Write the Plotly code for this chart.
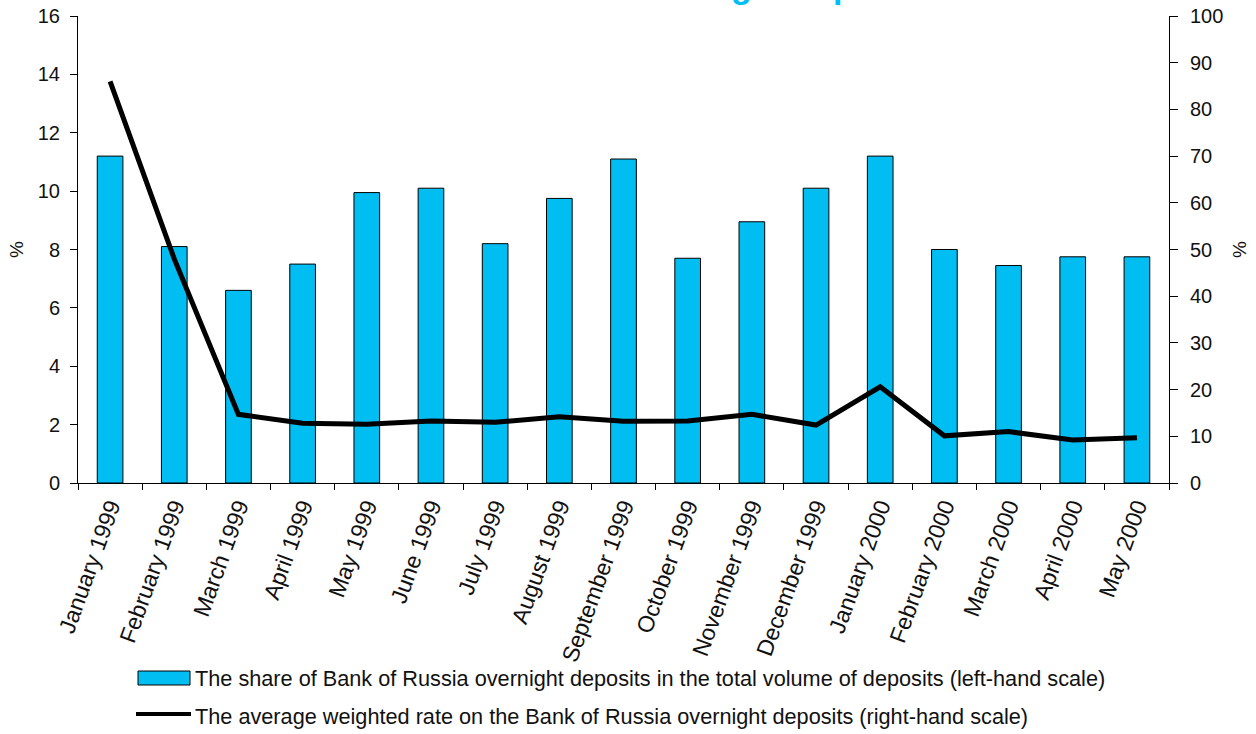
import plotly.graph_objects as go

# Monthly data, January 1999 – May 2000
months = [
    "January 1999", "February 1999", "March 1999", "April 1999", "May 1999",
    "June 1999", "July 1999", "August 1999", "September 1999", "October 1999",
    "November 1999", "December 1999", "January 2000", "February 2000",
    "March 2000", "April 2000", "May 2000",
]
# Share of overnight deposits in total deposits, % (left-hand scale)
share_pct = [11.2, 8.1, 6.6, 7.5, 9.95, 10.1, 8.2, 9.75, 11.1, 7.7,
             8.95, 10.1, 11.2, 8.0, 7.45, 7.75, 7.75]
# Average weighted rate on overnight deposits, % (right-hand scale)
rate_pct = [86.0, 48.0, 14.7, 12.8, 12.6, 13.3, 13.0, 14.2, 13.2, 13.3,
            14.7, 12.4, 20.6, 10.1, 11.0, 9.2, 9.7]

left_ticks = list(range(0, 17, 2))
right_ticks = list(range(0, 101, 10))

legend_bar_text = ("The share of Bank of Russia overnight deposits in the total "
                   "volume of deposits (left-hand scale)")
legend_line_text = ("The average weighted rate on the Bank of Russia overnight "
                    "deposits (right-hand scale)")
title_text = "Bank of Russia overnight deposits"

W, H = 1256, 734
ML, MR, MT, MB = 78, 87, 16, 251
PW, PH = W - ML - MR, H - MT - MB

CYAN = "#00BDF2"
FONT = "Liberation Sans, Arial, Helvetica, sans-serif"


def px_x(x):
    return (x - ML) / PW


def px_y(y):
    return (H - MB - y) / PH


fig = go.Figure()
fig.add_trace(go.Bar(
    x=months, y=share_pct, name=legend_bar_text,
    marker=dict(color=CYAN, line=dict(color="black", width=1)),
    width=0.4, showlegend=False, yaxis="y",
))
fig.add_trace(go.Scatter(
    x=months, y=rate_pct, name=legend_line_text, mode="lines",
    line=dict(color="black", width=5), showlegend=False, yaxis="y2",
))

axis_font = dict(family=FONT, size=20, color="#111111")

fig.update_layout(
    width=W, height=H,
    margin=dict(l=ML, r=MR, t=MT, b=MB, pad=0, autoexpand=False),
    plot_bgcolor="white", paper_bgcolor="white",
    font=dict(family=FONT, color="#111111"),
    bargap=0.6,
    xaxis=dict(
        type="category", showline=True, linecolor="black", linewidth=1,
        ticks="outside", ticklen=6, tickcolor="black", tickson="boundaries",
        tickangle=-70, tickfont=dict(family=FONT, size=23, color="#111111"),
        showgrid=False, zeroline=False, automargin=False,
    ),
    yaxis=dict(
        range=[0, 16], tickvals=left_ticks, ticks="outside", ticklen=7,
        tickcolor="black", showline=True, linecolor="black", linewidth=1,
        tickfont=axis_font, showgrid=False, zeroline=False, automargin=False,
        ticklabelstandoff=6,
        title=dict(text="%", font=dict(family=FONT, size=19), standoff=9),
    ),
    yaxis2=dict(
        range=[0, 100], tickvals=right_ticks, overlaying="y", side="right",
        ticks="outside", ticklen=8, tickcolor="black", showline=True,
        linecolor="black", linewidth=1, tickfont=axis_font, showgrid=False,
        zeroline=False, automargin=False, ticklabelstandoff=8,
        title=dict(text="%", font=dict(family=FONT, size=19), standoff=10),
    ),
)

# Legend drawn below the axis labels
fig.add_shape(type="rect", xref="paper", yref="paper",
              x0=px_x(138), x1=px_x(190), y0=px_y(685), y1=px_y(671),
              fillcolor=CYAN, line=dict(color="black", width=1))
fig.add_shape(type="line", xref="paper", yref="paper",
              x0=px_x(136), x1=px_x(191), y0=px_y(714), y1=px_y(714),
              line=dict(color="black", width=4))
fig.add_annotation(xref="paper", yref="paper", x=px_x(193), y=px_y(678),
                   xanchor="left", yanchor="middle", showarrow=False,
                   text=legend_bar_text,
                   font=dict(family=FONT, size=21.7, color="#111111"))
fig.add_annotation(xref="paper", yref="paper", x=px_x(193), y=px_y(716),
                   xanchor="left", yanchor="middle", showarrow=False,
                   text=legend_line_text,
                   font=dict(family=FONT, size=21.7, color="#111111"))

# Chart title, sitting at the very top edge of the page
fig.add_annotation(xref="paper", yref="paper", x=px_x(653), y=px_y(7),
                   xanchor="center", yanchor="bottom", showarrow=False,
                   text="<b>" + title_text + "</b>",
                   font=dict(family=FONT, size=34, color=CYAN))

fig.write_html("out.html")
